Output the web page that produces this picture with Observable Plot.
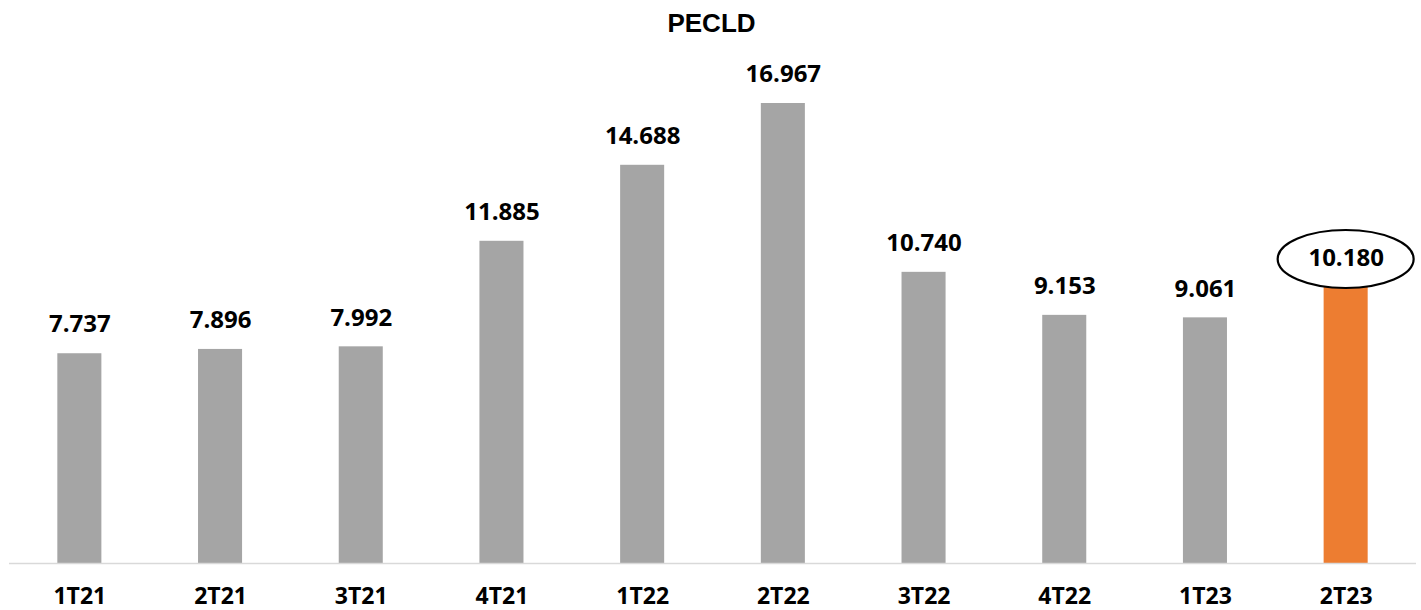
<!DOCTYPE html>
<html>
<head>
<meta charset="utf-8">
<script src="https://cdn.jsdelivr.net/npm/d3@7"></script>
<script src="https://cdn.jsdelivr.net/npm/@observablehq/plot@0.6"></script>
<style>
  html, body { margin: 0; padding: 0; background: #fff; }
  #title { height: 50px; box-sizing: border-box; padding-top: 10px; text-align: center;
    font-family: "Liberation Sans", Arial, sans-serif; font-weight: bold; font-size: 26px; line-height: 26px; color: #000;
    padding-left: 2px; }
  #chart svg { display: block; overflow: visible; }
</style>
</head>
<body>
<div id="title">PECLD</div>
<div id="chart"></div>
<script>
const categories = ["1T21","2T21","3T21","4T21","1T22","2T22","3T22","4T22","1T23","2T23"];
const values = [7.737, 7.896, 7.992, 11.885, 14.688, 16.967, 10.740, 9.153, 9.061, 10.180];
const valueLabels = ["7.737","7.896","7.992","11.885","14.688","16.967","10.740","9.153","9.061","10.180"];
const highlighted = "2T23";

const data = categories.map((c, i) => ({cat: c, value: values[i], label: valueLabels[i], hi: c === highlighted}));

const ellipseMark = (index, scales) => {
  const d = data.find(d => d.hi);
  const cx = scales.x(d.cat) + scales.x.bandwidth() / 2;
  const cy = scales.y(d.value) - 28;
  const g = d3.create("svg:g");
  g.append("ellipse")
    .attr("cx", cx).attr("cy", cy)
    .attr("rx", 68).attr("ry", 29)
    .attr("fill", "white").attr("stroke", "black").attr("stroke-width", 2.2);
  return g.node();
};

const plot = Plot.plot({
  width: 1421,
  height: 560,
  marginLeft: 9,
  marginRight: 5,
  marginTop: 25,
  marginBottom: 47,
  style: {background: "white", overflow: "visible"},
  x: {domain: categories, paddingInner: 0.687, paddingOuter: 0.3435, round: false, axis: null},
  y: {domain: [0, 18], axis: null},
  marks: [
    Plot.barY(data, {x: "cat", y: "value", fill: d => d.hi ? "#ed7d31" : "#a5a5a5"}),
    Plot.ruleY([0], {stroke: "#d9d9d9", strokeWidth: 1.5}),
    ellipseMark,
    Plot.text(data, {x: "cat", y: "value", text: "label", dy: -29, fontSize: 24, fontWeight: "bold",
      fontFamily: "'Open Sans', sans-serif", fill: "#000"}),
    Plot.axisX({tickSize: 0, tickPadding: 24, fontSize: 23, fontWeight: "bold", label: null,
      fontFamily: "'Open Sans', sans-serif", fill: "#000"})
  ]
});
document.getElementById("chart").appendChild(plot);
</script>
</body>
</html>
